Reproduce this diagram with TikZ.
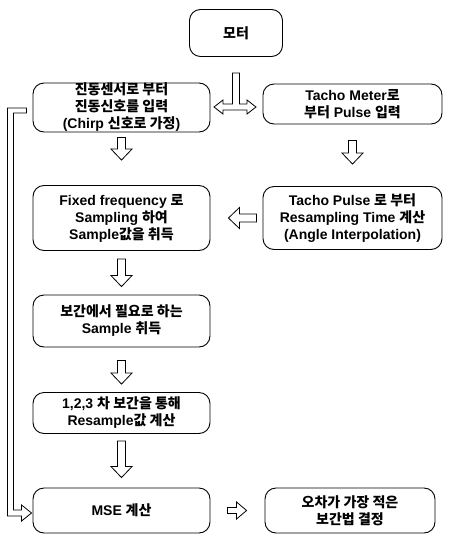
\documentclass[tikz,border=0pt]{standalone}
\usepackage{fontspec}
\setmainfont{Liberation Sans}
\newfontfamily\kr{Noto Sans CJK KR}
\newcommand{\ko}[1]{{\kr #1}}
\usetikzlibrary{calc}

\tikzset{
  box/.style={draw, rounded corners=11pt, line width=0.9pt, minimum width=177pt,
    align=center, inner sep=0pt, font=\bfseries\fontsize{14}{17}\selectfont},
  tail gap/.store in=\tailgap, tip gap/.store in=\tipgap,
  shaft half/.store in=\shafthalf, head half/.store in=\headhalf, head len/.store in=\headlen,
  outline/.style={draw, line width=0.8pt, line join=miter},
  blockarrow/.style={outline, tail gap=5pt, tip gap=5pt,
    shaft half=4pt, head half=10.5pt, head len=11pt,
    to path={let \p1=($(\tikztostart)!\tailgap!(\tikztotarget)$),
                 \p2=($(\tikztotarget)!\tipgap!(\tikztostart)$),
                 \n1={atan2(\y2-\y1,\x2-\x1)}, \n2={veclen(\x2-\x1,\y2-\y1)} in
      (\p1) -- ++(\n1+90:\shafthalf) -- ++(\n1:\n2-\headlen)
      -- ++(\n1+90:\headhalf-\shafthalf) -- (\p2)
      -- ($(\p2)+(\n1+180:\headlen)+(\n1-90:\headhalf)$)
      -- ++(\n1+90:\headhalf-\shafthalf) -- ++(\n1+180:\n2-\headlen) -- cycle}},
}

\begin{document}
\begin{tikzpicture}[x=1pt, y=-1pt]
  \useasboundingbox (0,0) rectangle (451,544);

  % boxes
  \node[box, minimum width=93pt, minimum height=47pt] (motor) at (236,33) {\ko{모터}};
  \node[box, minimum height=49pt] (vib) at (121.5,107.5)
    {\ko{진동센서로 부터}\\\ko{진동신호를 입력}\\(Chirp \ko{신호로 가정})};
  \node[box, minimum width=179pt, minimum height=40pt] (tacho) at (352.5,104)
    {Tacho Meter\ko{로}\\\ko{부터} Pulse \ko{입력}};
  \node[box, minimum height=65pt] (fixed) at (121.5,218)
    {Fixed frequency \ko{로}\\Sampling \ko{하여}\\Sample\ko{값을 취득}};
  \node[box, minimum width=179pt, minimum height=63pt] (resamp) at (352.5,218)
    {Tacho Pulse \ko{로 부터}\\Resampling Time \ko{계산}\\(Angle Interpolation)};
  \node[box, minimum height=52pt] (sample) at (121.5,321)
    {\ko{보간에서 필요로 하는}\\Sample \ko{취득}};
  \node[box, minimum height=41pt] (interp) at (121.5,413)
    {1,2,3 \ko{차 보간을 통해}\\Resample\ko{값 계산}};
  \node[box, minimum height=45pt] (mse) at (121.5,510.5) {MSE \ko{계산}};
  \node[box, minimum width=170pt, minimum height=45pt] (decide) at (350,510.5)
    {\ko{오차가 가장 적은}\\\ko{보간법 결정}};

  % motor splits to both sides
  \coordinate (split) at (236,107);
  \draw[outline] ([shift={(-3.5,-34)}]split) -- ++(7,0) -- ++(0,31) -- ++(7.5,0)
    -- ++(0,-4) -- ++(9,7) -- ++(-9,7) -- ++(0,-4) -- ++(-24,0) -- ++(0,4)
    -- ++(-9,-7) -- ++(9,-7) -- ++(0,4) -- ++(9.5,0) -- cycle;

  % flow
  \draw[blockarrow, tail gap=5pt, tip gap=25pt] (vib.south) to (fixed.north);
  \draw[blockarrow, tail gap=8pt, tip gap=8pt] (fixed.south) to (sample.north);
  \draw[blockarrow, tail gap=13pt, tip gap=8pt] (sample.south) to (interp.north);
  \draw[blockarrow, tail gap=7pt, tip gap=10pt] (interp.south) to (mse.north);
  \draw[blockarrow, tail gap=16pt, tip gap=22pt] (tacho.south) to (resamp.north);
  \draw[blockarrow, tail gap=6pt, tip gap=18pt] (resamp.west) to (fixed.east);
  \draw[blockarrow, tail gap=17pt, tip gap=18pt, shaft half=3pt, head half=8.5pt,
    head len=10pt] (mse.east) to (decide.west);

  % feedback loop
  \draw[outline] ([shift={(-6,0.5)}]vib.west) -- ++(-19,0) |- ([shift={(-11,5.5)}]mse.west)
    -- ++(0,5) -- ++(10,-8) -- ++(-10,-8) -- ++(0,5) -- ++(-8,0)
    |- ([shift={(-6,5.5)}]vib.west) -- cycle;
\end{tikzpicture}
\end{document}
